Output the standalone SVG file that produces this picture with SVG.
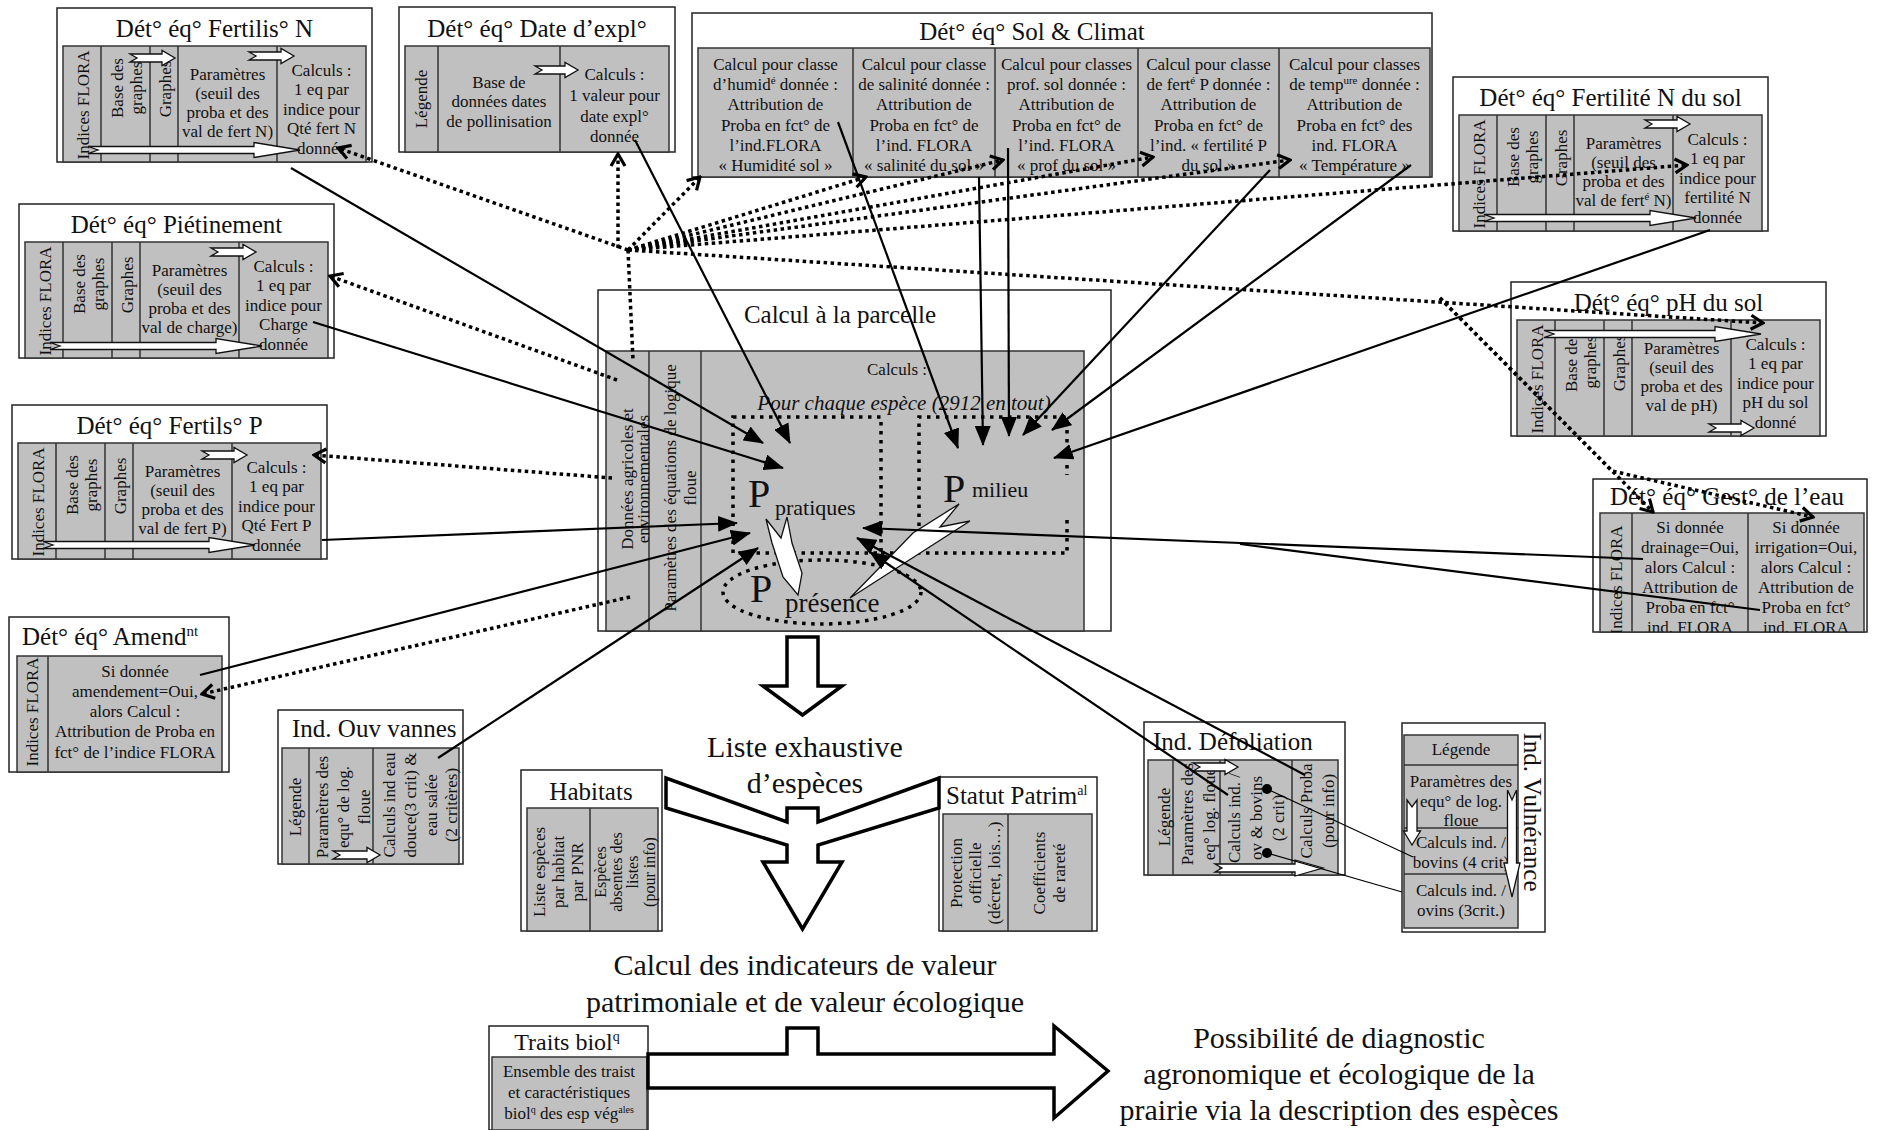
<svg xmlns="http://www.w3.org/2000/svg" width="1878" height="1130" viewBox="0 0 1878 1130">
<defs>
<style>
text{font-family:"Liberation Serif","Times New Roman",serif;fill:#111}
.t{font-size:17px;text-anchor:middle}
.ts{font-size:17px}
.ti{font-size:25px;text-anchor:middle}
.tis{font-size:25px}
.big{font-size:30px;text-anchor:middle}
.box{fill:#fff;stroke:#222;stroke-width:1.5}
.gray{fill:#c0c0c0;stroke:#333;stroke-width:1.5}
.dv{fill:none;stroke:#333;stroke-width:1.5}
.wa{fill:#fff;stroke:#111;stroke-width:1.3}
.ba{fill:#fff;stroke:#000;stroke-width:3.5;stroke-linejoin:miter}
.sl{fill:none;stroke:#000;stroke-width:2.2;marker-end:url(#ah)}
.sn{fill:none;stroke:#000;stroke-width:2.2}
.th{fill:none;stroke:#000;stroke-width:1.1}
.dl{fill:none;stroke:#000;stroke-width:3.5;stroke-dasharray:3.5 3.5;marker-end:url(#ch)}
.dn{fill:none;stroke:#000;stroke-width:3.5;stroke-dasharray:3.5 3.5}
.dr{fill:none;stroke:#000;stroke-width:3.5;stroke-dasharray:3.5 5.5}
</style>
<marker id="ah" viewBox="0 0 20 16" refX="19" refY="8" markerWidth="20" markerHeight="16" markerUnits="userSpaceOnUse" orient="auto"><path d="M0,0L20,8L0,16Z" fill="#000"/></marker>
<marker id="ch" viewBox="0 0 16 18" refX="14" refY="9" markerWidth="16" markerHeight="18" markerUnits="userSpaceOnUse" orient="auto"><path d="M2,2L14,9L2,16" fill="none" stroke="#000" stroke-width="3.2"/></marker>
<clipPath id="cg"><rect x="7" y="34" width="264" height="119"/></clipPath>
</defs>
<rect width="1878" height="1130" fill="#fff"/>

<!-- Fertilis N -->
<g id="fertilisN" transform="translate(57,8)">
<rect class="box" x="0" y="0" width="315" height="154"/>
<text class="ti" x="157.5" y="29">Dét° éq° Fertilis° N</text>
<rect class="gray" x="6" y="38" width="303" height="116"/>
<path class="dv" d="M44,38V154M93,38V154M121,38V154M220,38V154"/>
<text class="t" transform="translate(32,97) rotate(-90)">Indices FLORA</text>
<text class="t" transform="translate(66,80) rotate(-90)">Base des</text>
<text class="t" transform="translate(85,80) rotate(-90)">graphes</text>
<text class="t" transform="translate(114,81) rotate(-90)">Graphes</text>
<text class="t" x="170.5" y="72">Paramètres</text>
<text class="t" x="170.5" y="91">(seuil des</text>
<text class="t" x="170.5" y="110">proba et des</text>
<text class="t" x="170.5" y="129">val de fert N)</text>
<text class="t" x="264.5" y="68">Calculs :</text>
<text class="t" x="264.5" y="87">1 eq par</text>
<text class="t" x="264.5" y="107">indice pour</text>
<text class="t" x="264.5" y="126">Qté fert N</text>
<text class="t" x="264.5" y="146">donnée</text>
<path class="wa" d="M73,46H105V42.5L118,50L105,57.5V54H73L80,50Z"/>
<path class="wa" d="M192,44H224V40.5L237,48L224,55.5V52H192L199,48Z"/>
<path class="wa" d="M31,138.5H197V134.5L243,142L197,149.5V145.5H31L41,142Z"/>
</g>

<!-- Date d'expl -->
<g id="dateExpl" transform="translate(399,7)">
<rect class="box" x="0" y="0" width="276" height="145"/>
<text class="ti" x="138" y="30">Dét° éq° Date d’expl°</text>
<rect class="gray" x="6" y="39" width="264" height="106"/>
<path class="dv" d="M39,39V145M161,39V145"/>
<text class="t" transform="translate(28,92) rotate(-90)">Légende</text>
<text class="t" x="100" y="81">Base de</text>
<text class="t" x="100" y="100">données dates</text>
<text class="t" x="100" y="120">de pollinisation</text>
<text class="t" x="215.5" y="73">Calculs :</text>
<text class="t" x="215.5" y="94">1 valeur pour</text>
<text class="t" x="215.5" y="115">date expl°</text>
<text class="t" x="215.5" y="135">donnée</text>
<path class="wa" d="M136,59H166V55.5L179,63L166,70.5V67H136L143,63Z"/>
</g>

<!-- Sol & Climat -->
<g id="solClimat" transform="translate(692,13)">
<rect class="box" x="0" y="0" width="740" height="164"/>
<text class="ti" x="340" y="27">Dét° éq° Sol &amp; Climat</text>
<rect class="gray" x="6" y="35" width="732" height="129"/>
<path class="dv" d="M161,35V164M303,35V164M446,35V164M587,35V164"/>
<text class="t" x="83.5" y="57">Calcul pour classe</text>
<text class="t" x="83.5" y="77">d’humid<tspan font-size="11" dy="-6">é</tspan><tspan dy="6"> donnée :</tspan></text>
<text class="t" x="83.5" y="97">Attribution de</text>
<text class="t" x="83.5" y="118">Proba en fct° de</text>
<text class="t" x="83.5" y="138">l’ind.FLORA</text>
<text class="t" x="83.5" y="158">« Humidité sol »</text>
<text class="t" x="232" y="57">Calcul pour classe</text>
<text class="t" x="232" y="77">de salinité donnée :</text>
<text class="t" x="232" y="97">Attribution de</text>
<text class="t" x="232" y="118">Proba en fct° de</text>
<text class="t" x="232" y="138">l’ind. FLORA</text>
<text class="t" x="232" y="158">« salinité du sol »</text>
<text class="t" x="374.5" y="57">Calcul pour classes</text>
<text class="t" x="374.5" y="77">prof. sol donnée :</text>
<text class="t" x="374.5" y="97">Attribution de</text>
<text class="t" x="374.5" y="118">Proba en fct° de</text>
<text class="t" x="374.5" y="138">l’ind. FLORA</text>
<text class="t" x="374.5" y="158">« prof du sol »</text>
<text class="t" x="516.5" y="57">Calcul pour classe</text>
<text class="t" x="516.5" y="77">de fert<tspan font-size="11" dy="-6">é</tspan><tspan dy="6"> P donnée :</tspan></text>
<text class="t" x="516.5" y="97">Attribution de</text>
<text class="t" x="516.5" y="118">Proba en fct° de</text>
<text class="t" x="516.5" y="138">l’ind. « fertilité P</text>
<text class="t" x="516.5" y="158">du sol »</text>
<text class="t" x="662.5" y="57">Calcul pour classes</text>
<text class="t" x="662.5" y="77">de temp<tspan font-size="11" dy="-6">ure</tspan><tspan dy="6"> donnée :</tspan></text>
<text class="t" x="662.5" y="97">Attribution de</text>
<text class="t" x="662.5" y="118">Proba en fct° des</text>
<text class="t" x="662.5" y="138">ind. FLORA</text>
<text class="t" x="662.5" y="158">« Température »</text>
</g>

<!-- Fertilité N du sol -->
<g id="fertiliteN" transform="translate(1453,77)">
<rect class="box" x="0" y="0" width="315" height="154"/>
<text class="ti" x="157.5" y="29">Dét° éq° Fertilité N du sol</text>
<rect class="gray" x="6" y="38" width="303" height="116"/>
<path class="dv" d="M44,38V154M93,38V154M121,38V154M220,38V154"/>
<text class="t" transform="translate(32,97) rotate(-90)">Indices FLORA</text>
<text class="t" transform="translate(66,80) rotate(-90)">Base des</text>
<text class="t" transform="translate(85,80) rotate(-90)">graphes</text>
<text class="t" transform="translate(114,81) rotate(-90)">Graphes</text>
<text class="t" x="170.5" y="72">Paramètres</text>
<text class="t" x="170.5" y="91">(seuil des</text>
<text class="t" x="170.5" y="110">proba et des</text>
<text class="t" x="170.5" y="129">val de fert<tspan font-size="11" dy="-6">é</tspan><tspan dy="6"> N)</tspan></text>
<text class="t" x="264.5" y="68">Calculs :</text>
<text class="t" x="264.5" y="87">1 eq par</text>
<text class="t" x="264.5" y="107">indice pour</text>
<text class="t" x="264.5" y="126">fertilité N</text>
<text class="t" x="264.5" y="146">donnée</text>
<path class="wa" d="M192,43H224V39.5L237,47L224,54.5V51H192L199,47Z"/>
<path class="wa" d="M31,137.5H197V133.5L243,141L197,148.5V144.5H31L41,141Z"/>
</g>

<!-- Piétinement -->
<g id="pietinement" transform="translate(19,204)">
<rect class="box" x="0" y="0" width="315" height="154"/>
<text class="ti" x="157.5" y="29">Dét° éq° Piétinement</text>
<rect class="gray" x="6" y="38" width="303" height="116"/>
<path class="dv" d="M44,38V154M93,38V154M121,38V154M220,38V154"/>
<text class="t" transform="translate(32,97) rotate(-90)">Indices FLORA</text>
<text class="t" transform="translate(66,80) rotate(-90)">Base des</text>
<text class="t" transform="translate(85,80) rotate(-90)">graphes</text>
<text class="t" transform="translate(114,81) rotate(-90)">Graphes</text>
<text class="t" x="170.5" y="72">Paramètres</text>
<text class="t" x="170.5" y="91">(seuil des</text>
<text class="t" x="170.5" y="110">proba et des</text>
<text class="t" x="170.5" y="129">val de charge)</text>
<text class="t" x="264.5" y="68">Calculs :</text>
<text class="t" x="264.5" y="87">1 eq par</text>
<text class="t" x="264.5" y="107">indice pour</text>
<text class="t" x="264.5" y="126">Charge</text>
<text class="t" x="264.5" y="146">donnée</text>
<path class="wa" d="M192,44H224V40.5L237,48L224,55.5V52H192L199,48Z"/>
<path class="wa" d="M31,138.5H197V134.5L243,142L197,149.5V145.5H31L41,142Z"/>
</g>

<!-- Fertilis P -->
<g id="fertilisP" transform="translate(12,405)">
<rect class="box" x="0" y="0" width="315" height="154"/>
<text class="ti" x="157.5" y="29">Dét° éq° Fertils° P</text>
<rect class="gray" x="6" y="38" width="303" height="116"/>
<path class="dv" d="M44,38V154M93,38V154M121,38V154M220,38V154"/>
<text class="t" transform="translate(32,97) rotate(-90)">Indices FLORA</text>
<text class="t" transform="translate(66,80) rotate(-90)">Base des</text>
<text class="t" transform="translate(85,80) rotate(-90)">graphes</text>
<text class="t" transform="translate(114,81) rotate(-90)">Graphes</text>
<text class="t" x="170.5" y="72">Paramètres</text>
<text class="t" x="170.5" y="91">(seuil des</text>
<text class="t" x="170.5" y="110">proba et des</text>
<text class="t" x="170.5" y="129">val de fert P)</text>
<text class="t" x="264.5" y="68">Calculs :</text>
<text class="t" x="264.5" y="87">1 eq par</text>
<text class="t" x="264.5" y="107">indice pour</text>
<text class="t" x="264.5" y="126">Qté Fert P</text>
<text class="t" x="264.5" y="146">donnée</text>
<path class="wa" d="M190,46H222V42.5L235,50L222,57.5V54H190L197,50Z"/>
<path class="wa" d="M31,136.5H197V132.5L243,140L197,147.5V143.5H31L41,140Z"/>
</g>

<!-- pH du sol -->
<g id="phSol" transform="translate(1511,282)">
<rect class="box" x="0" y="0" width="315" height="154"/>
<text class="ti" x="157.5" y="29">Dét° éq° pH du sol</text>
<rect class="gray" x="6" y="38" width="303" height="116"/>
<path class="dv" d="M44,38V154M93,38V154M121,38V154M220,38V154"/>
<text class="t" transform="translate(32,97) rotate(-90)">Indices FLORA</text>
<text class="t" transform="translate(66,80) rotate(-90)">Base des</text>
<text class="t" transform="translate(85,80) rotate(-90)">graphes</text>
<text class="t" transform="translate(114,81) rotate(-90)">Graphes</text>
<text class="t" x="170.5" y="72">Paramètres</text>
<text class="t" x="170.5" y="91">(seuil des</text>
<text class="t" x="170.5" y="110">proba et des</text>
<text class="t" x="170.5" y="129">val de pH)</text>
<text class="t" x="264.5" y="68">Calculs :</text>
<text class="t" x="264.5" y="87">1 eq par</text>
<text class="t" x="264.5" y="107">indice pour</text>
<text class="t" x="264.5" y="126">pH du sol</text>
<text class="t" x="264.5" y="146">donné</text>
<path class="wa" d="M33,48.5H204V44.5L250,52L204,59.5V55.5H33L43,52Z"/>
<path class="wa" d="M198,142H230V138.5L243,146L230,153.5V150H198L205,146Z"/>
</g>

<!-- Gestion de l'eau -->
<g id="gestEau" transform="translate(1593,479)">
<rect class="box" x="0" y="0" width="274" height="153"/>
<text class="ti" x="134" y="26">Dét° éq° Gest° de l’eau</text>
<rect class="gray" x="7" y="34" width="264" height="119"/>
<path class="dv" d="M39,34V153M155,34V153"/>
<g clip-path="url(#cg)">
<text class="t" transform="translate(29,101) rotate(-90)">Indices FLORA</text>
<text class="t" x="97" y="54">Si donnée</text>
<text class="t" x="97" y="74">drainage=Oui,</text>
<text class="t" x="97" y="94">alors Calcul :</text>
<text class="t" x="97" y="114">Attribution de</text>
<text class="t" x="97" y="134">Proba en fct°</text>
<text class="t" x="97" y="154">ind. FLORA</text>
<text class="t" x="213" y="54">Si donnée</text>
<text class="t" x="213" y="74">irrigation=Oui,</text>
<text class="t" x="213" y="94">alors Calcul :</text>
<text class="t" x="213" y="114">Attribution de</text>
<text class="t" x="213" y="134">Proba en fct°</text>
<text class="t" x="213" y="154">ind. FLORA</text>
</g>
</g>

<!-- Amendement -->
<g id="amendement" transform="translate(9,617)">
<rect class="box" x="0" y="0" width="220" height="155"/>
<text class="tis" x="13" y="28">Dét° éq° Amend<tspan font-size="15" dy="-9">nt</tspan></text>
<rect class="gray" x="8" y="39" width="205" height="116"/>
<path class="dv" d="M39,39V155"/>
<text class="t" transform="translate(29,95) rotate(-90)">Indices FLORA</text>
<text class="t" x="126" y="60">Si donnée</text>
<text class="t" x="126" y="80">amendement=Oui,</text>
<text class="t" x="126" y="100">alors Calcul :</text>
<text class="t" x="126" y="120">Attribution de Proba en</text>
<text class="t" x="126" y="141">fct° de l’indice FLORA</text>
</g>

<!-- Ouverture vannes -->
<g id="ouvVannes" transform="translate(278,710)">
<rect class="box" x="0" y="0" width="185" height="154"/>
<text class="tis" x="14" y="27">Ind. Ouv vannes</text>
<rect class="gray" x="4" y="38" width="177" height="116"/>
<path class="dv" d="M31,38V154M95,38V154"/>
<text class="t" transform="translate(23,97) rotate(-90)">Légende</text>
<text class="t" transform="translate(50,97) rotate(-90)">Paramètres des</text>
<text class="t" transform="translate(71,97) rotate(-90)">equ° de log.</text>
<text class="t" transform="translate(92,97) rotate(-90)">floue</text>
<text class="t" transform="translate(117,95) rotate(-90)">Calculs ind eau</text>
<text class="t" transform="translate(138,95) rotate(-90)">douce(3 crit) &amp;</text>
<text class="t" transform="translate(159,95) rotate(-90)">eau salée</text>
<text class="t" transform="translate(179,95) rotate(-90)">(2 critères)</text>
<path class="wa" d="M55,141H89V137.5L102,145L89,152.5V149H55L62,145Z"/>
</g>

<!-- Défoliation -->
<g id="defoliation" transform="translate(1144,722)">
<rect class="box" x="0" y="0" width="201" height="153"/>
<text class="tis" x="9" y="28">Ind. Défoliation</text>
<rect class="gray" x="4" y="38" width="190" height="115"/>
<path class="dv" d="M29,38V153M76,38V153M148,38V153"/>
<text class="t" transform="translate(26,95) rotate(-90)">Légende</text>
<text class="t" transform="translate(49,92) rotate(-90)">Paramètres des</text>
<text class="t" transform="translate(71,92) rotate(-90)">eq°  log. floue</text>
<text class="t" transform="translate(96,96) rotate(-90)">Calculs ind. /</text>
<text class="t" transform="translate(118,96) rotate(-90)">ov &amp; bovins</text>
<text class="t" transform="translate(140,96) rotate(-90)">(2 crit)</text>
<text class="t" transform="translate(168,89) rotate(-90)">Calculs Proba</text>
<text class="t" transform="translate(190,89) rotate(-90)">(pour info)</text>
<circle cx="123" cy="67" r="5" fill="#000"/>
<circle cx="123" cy="131" r="5" fill="#000"/>
<path class="wa" d="M49,41H81V37.5L94,45L81,52.5V49H49L56,45Z"/>
<path class="wa" d="M71,142H151V138L179,146L151,154V150H71L78,146Z"/>
</g>

<!-- Vulnérance -->
<g id="vulnerance">
<rect class="box" x="1402" y="723" width="143" height="209"/>
<rect class="gray" x="1404" y="735" width="114" height="193"/>
<path class="dv" d="M1404,765H1518M1404,828H1518M1404,874H1518"/>
<text class="t" x="1461" y="755">Légende</text>
<text class="t" x="1461" y="787">Paramètres des</text>
<text class="t" x="1461" y="807">equ° de log.</text>
<text class="t" x="1461" y="826">floue</text>
<text class="t" x="1461" y="848">Calculs ind. /</text>
<text class="t" x="1461" y="868">bovins (4 crit)</text>
<text class="t" x="1461" y="896">Calculs ind. /</text>
<text class="t" x="1461" y="916">ovins (3crit.)</text>
<text class="ti" transform="translate(1524,812) rotate(90)">Ind. Vulnérance</text>
<path class="wa" d="M1407,800L1412,807L1417,800V831H1420.5L1412,845L1403.5,831H1407Z"/>
<path class="wa" d="M1507.5,790L1512,800L1516.5,790V863H1520L1512,897L1504,863H1507.5Z"/>
</g>

<!-- Calcul à la parcelle -->
<g id="calculParcelle">
<rect class="box" x="598" y="290" width="513" height="341"/>
<text class="ti" x="840" y="323">Calcul à la parcelle</text>
<rect class="gray" x="606" y="351" width="478" height="280"/>
<path class="dv" d="M649,351V631M701,351V631"/>
<text class="t" transform="translate(633,479) rotate(-90)">Données agricoles et</text>
<text class="t" transform="translate(649,479) rotate(-90)">environnementales</text>
<text class="t" transform="translate(676,488) rotate(-90)">Paramètres des équations de logique</text>
<text class="t" transform="translate(696,488) rotate(-90)">floue</text>
<text class="t" x="897" y="375">Calculs :</text>
<text class="t" x="904" y="410" style="font-size:21px;font-style:italic">Pour chaque espèce (2912 en tout)</text>
<path class="dr" d="M733,417H881V553H733Z"/>
<path class="dr" d="M919,553V417H1067V445M1067,465V475M1067,520V553M881,553H1067"/>
<ellipse class="dr" cx="822" cy="592" rx="99" ry="32"/>
<text x="748" y="507" font-size="40">P</text>
<text x="775" y="515" font-size="22">pratiques</text>
<text x="943" y="502" font-size="40">P</text>
<text x="972" y="497" font-size="22">milieu</text>
<text x="750" y="602" font-size="40">P</text>
<text x="785" y="612" font-size="27">présence</text>
<path class="wa" stroke-width="2.5" d="M766,519L781,538L787,517L792,543L802,573L798,595L783,577L772,543Z"/>
<path class="wa" stroke-width="2.5" d="M959,504L940,527L970,521L850,598L913,533Z"/>
</g>

<!-- Habitats -->
<g id="habitats">
<rect class="box" x="521" y="770" width="141" height="161"/>
<text class="ti" x="591" y="800">Habitats</text>
<rect class="gray" x="527" y="808" width="131" height="123"/>
<path class="dv" d="M590,808V931"/>
<text class="t" transform="translate(545,872) rotate(-90)">Liste espèces</text>
<text class="t" transform="translate(564,872) rotate(-90)">par habitat</text>
<text class="t" transform="translate(583,872) rotate(-90)">par PNR</text>
<text class="t" style="font-size:16px" transform="translate(606,872) rotate(-90)">Espèces</text>
<text class="t" style="font-size:16px" transform="translate(622,872) rotate(-90)">absentes des</text>
<text class="t" style="font-size:16px" transform="translate(638,872) rotate(-90)">listes</text>
<text class="t" style="font-size:16px" transform="translate(655,872) rotate(-90)">(pour info)</text>
</g>

<!-- Statut patrimonial -->
<g id="statutPatrim">
<rect class="box" x="939" y="777" width="158" height="154"/>
<text class="tis" x="946" y="804">Statut Patrim<tspan font-size="14" dy="-9">al</tspan></text>
<rect class="gray" x="943" y="814" width="149" height="117"/>
<path class="dv" d="M1008,814V931"/>
<text class="t" transform="translate(962,873) rotate(-90)">Protection</text>
<text class="t" transform="translate(981,873) rotate(-90)">officielle</text>
<text class="t" transform="translate(1000,873) rotate(-90)">(décret, lois…)</text>
<text class="t" transform="translate(1045,873) rotate(-90)">Coefficients</text>
<text class="t" transform="translate(1065,873) rotate(-90)">de rareté</text>
</g>

<!-- Traits biologiques -->
<g id="traitsBiol">
<rect class="box" x="489" y="1026" width="159" height="104"/>
<text class="ti" x="567" y="1050" style="font-size:24px">Traits biol<tspan font-size="14" dy="-9">q</tspan></text>
<rect class="gray" x="492" y="1057" width="155" height="73"/>
<text class="t" x="569" y="1077">Ensemble des traist</text>
<text class="t" x="569" y="1098">et caractéristiques</text>
<text class="t" x="569" y="1119">biol<tspan font-size="10" dy="-6">q</tspan><tspan dy="6"> des esp vég</tspan><tspan font-size="10" dy="-6">ales</tspan></text>
</g>

<!-- Big texts -->
<g id="listeEspeces">
<text class="big" x="805" y="757">Liste exhaustive</text>
<text class="big" x="805" y="793">d’espèces</text>
</g>
<g id="calculIndicateurs">
<text class="big" x="805" y="975">Calcul des indicateurs de valeur</text>
<text class="big" x="805" y="1012">patrimoniale et de valeur écologique</text>
</g>
<g id="diagnostic">
<text class="big" x="1339" y="1048">Possibilité de diagnostic</text>
<text class="big" x="1339" y="1084">agronomique et écologique de la</text>
<text class="big" x="1339" y="1120">prairie via la description des espèces</text>
</g>

<!-- Big flow arrows -->
<g id="flowArrows">
<path class="ba" d="M787,637H818V686H842L802.5,715L763,686H787Z"/>
<path class="ba" d="M787,808H818V822L939,778V808L818,845V862H842L802.5,929L763,862H787V845L666,808V778L787,822Z"/>
<path class="ba" d="M648,1054H787V1028H818V1054H1054V1026L1108,1071L1054,1118V1088H648Z"/>
</g>

<!-- Connectors -->
<g id="connectors">
<path class="sl" d="M291,168L763,443"/>
<path class="sl" d="M635,140L790,443"/>
<path class="sl" d="M838,122L958,448"/>
<path class="sl" d="M979,177L983,445"/>
<path class="sl" d="M1008,148L1009,436"/>
<path class="sl" d="M1270,170L1023,435"/>
<path class="sl" d="M1411,165L1052,430"/>
<path class="sl" d="M1710,230L1054,458"/>
<path class="sl" d="M313,322L783,468"/>
<path class="sl" d="M322,540L737,523"/>
<path class="sl" d="M200,675L750,533"/>
<path class="sl" d="M438,758L758,548"/>
<path class="sl" d="M1643,559L863,528"/>
<path class="sn" d="M1760,610L1240,544"/>
<path class="sl" d="M1305,775L857,538"/>
<path class="sl" d="M1228,795L870,552"/>
<path class="th" d="M1267,789L1413,857M1267,853L1402,892"/>
<path class="dl" d="M628,250L338,148"/>
<path class="dl" d="M618,248L618,154"/>
<path class="dl" d="M628,250L700,177"/>
<path class="dl" d="M628,250L866,177"/>
<path class="dl" d="M628,250L1003,160"/>
<path class="dl" d="M628,250L1153,157"/>
<path class="dl" d="M628,250L1290,160"/>
<path class="dl" d="M628,250L1687,165"/>
<path class="dl" d="M628,250L1763,323"/>
<path class="dn" d="M628,250L633,360"/>
<path class="dl" d="M617,380L330,276"/>
<path class="dl" d="M612,478L314,455"/>
<path class="dl" d="M630,597L202,694"/>
<path class="dl" d="M1440,298L1653,512"/>
<path class="dl" d="M1440,298L1612,471L1813,517"/>
</g>
</svg>
